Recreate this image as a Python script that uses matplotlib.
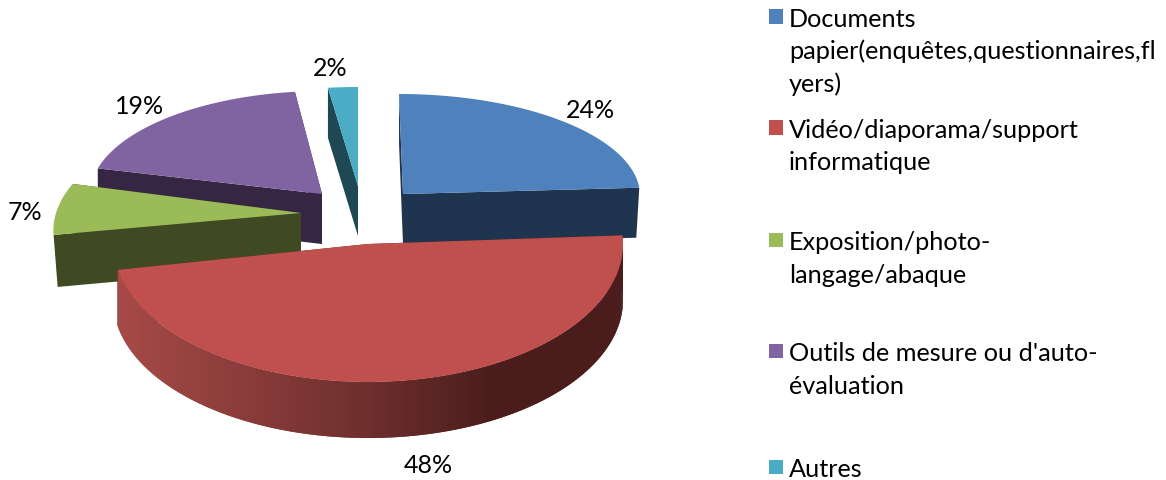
import numpy as np
import matplotlib
matplotlib.use('Agg')
import matplotlib.pyplot as plt
from matplotlib.patches import Rectangle

plt.rcParams['font.family'] = ['Lato', 'DejaVu Sans']

categories = ['Documents\npapier(enquêtes,questionnaires,fl\nyers)',
              'Vidéo/diaporama/support\ninformatique',
              'Exposition/photo-\nlangage/abaque',
              "Outils de mesure ou d'auto-\névaluation",
              'Autres']
values = [24, 48, 7, 19, 2]
top_colors = ['#4f81bd', '#c0504d', '#9bbb59', '#8064a2', '#4bacc6']
side_colors = ['#1f344e', '#4c1e1d', '#3f4a22', '#362644', '#1d4854']

# exploded slice geometry, pixels: apex x, apex y, a, b, shear, depth, lean of the outer edge
geom = [(403, 195, 237, 100, -4, 50, -3),
        (368, 245, 255, 138, 0, 56, 0),
        (301, 214, 245, 117, 36, 52, -4),
        (322, 195, 232, 103, 2, 50, 0),
        (358, 187, 240, 99, 0, 50, 0)]

label_pos = [(590, 110), (428, 466), (25, 213), (140, 107), (330, 69)]
legend_y = [19.5, 130.5, 243, 354, 470]
legend_line = 32.2

fig = plt.figure(figsize=(11.66, 4.81), dpi=100)
ax = fig.add_axes([0, 0, 1, 1])
ax.set_xlim(0, 1166)
ax.set_ylim(481, 0)
ax.axis('off')

# slice angles go clockwise from 12 o'clock
stops = 90 - 3.6 * np.cumsum([0] + values)
z_order = {4: 1, 3: 2, 0: 3, 2: 4, 1: 5}


def outline(g, t):
    cx, cy, a, b, s = g[:5]
    r = np.radians(t)
    return cx + a * np.cos(r) + s * np.sin(r), cy - b * np.sin(r)


def draw_slice(i):
    g = geom[i]
    cx, cy, a = g[0], g[1], g[2]
    depth, lean = g[5], g[6]
    t = np.linspace(stops[i], stops[i + 1], 240)
    x, y = outline(g, t)
    xb = x + lean * (x - cx) / a
    # cut faces
    for k in [0, -1]:
        ax.fill([x[k], cx, cx, xb[k]],
                [y[k], cy, cy + depth, y[k] + depth],
                color=side_colors[i], lw=0, zorder=z_order[i])
    # outer rim, only the big front slice shows it
    if i == 1:
        for j in range(len(t) - 2):
            c = np.interp(x[j + 1], [118, 240, 370, 490, 625], [0, 0.30, 0.62, 1, 1])
            col = np.array([0.65, 0.29, 0.28]) * (1 - c) + np.array([0.29, 0.115, 0.11]) * c
            ax.fill([x[j], x[j + 2], xb[j + 2], xb[j]],
                    [y[j], y[j + 2], y[j + 2] + depth, y[j] + depth],
                    color=col, lw=0, zorder=z_order[i])
    ax.fill(np.r_[cx, x], np.r_[cy, y], color=top_colors[i], lw=0, zorder=z_order[i] + 0.5)


for i in [4, 3, 0, 2, 1]:
    draw_slice(i)

for v, (px, py) in zip(values, label_pos):
    ax.text(px, py, '%d%%' % v, ha='center', va='center', fontsize=18, color='black')

for name, col, ly in zip(categories, top_colors, legend_y):
    ax.add_patch(Rectangle((768.5, ly - 9.5), 14.5, 14.5, color=col, lw=0))
    for n, line in enumerate(name.split('\n')):
        ax.text(789, ly + n * legend_line, line, ha='left', va='center', fontsize=18.2, color='black')

fig.savefig('out.png', dpi=100)
